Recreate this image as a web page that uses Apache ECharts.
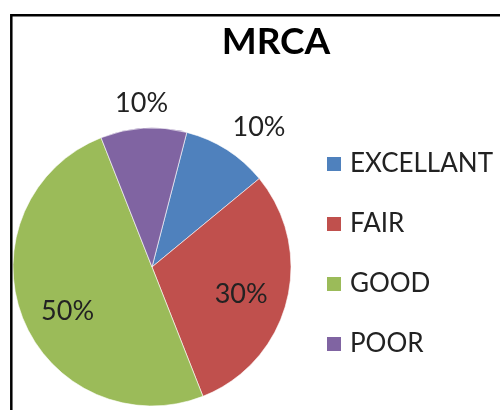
<!DOCTYPE html>
<html>
<head>
<meta charset="utf-8">
<script src="https://cdn.jsdelivr.net/npm/echarts@6/dist/echarts.min.js"></script>
<style>
html,body{margin:0;padding:0;background:#fff;}
#chart{width:500px;height:410px;}
</style>
</head>
<body>
<div id="chart"></div>
<script>
const chartTitle = 'MRCA';
const categories = ['EXCELLANT', 'FAIR', 'GOOD', 'POOR'];
const values = [10, 30, 50, 10];
const colors = ['#4F81BD', '#C0504D', '#9BBB59', '#8064A2'];
// label nudges (px) relative to the library's inside label position
const labelShiftX = [68, 19, -17, -6];
const labelShiftY = [-79, 9, 18, -91];

const FONT = 'Lato';
const chart = echarts.init(document.getElementById('chart'), null, {renderer: 'canvas'});
chart.setOption({
  backgroundColor: '#ffffff',
  animation: false,
  graphic: [{
    type: 'rect',
    shape: {x: 11.3, y: 15.3, width: 700, height: 700},
    style: {fill: 'none', stroke: '#000', lineWidth: 2.5},
    z: 100
  }],
  title: {
    text: chartTitle,
    left: 276,
    textAlign: 'center',
    top: 24,
    padding: 0,
    textStyle: {fontFamily: FONT, fontWeight: 'bold', fontSize: 37, lineHeight: 37, color: '#000'}
  },
  legend: {
    orient: 'vertical',
    left: 325,
    top: 150,
    padding: 0,
    icon: 'rect',
    itemWidth: 16,
    itemHeight: 16,
    itemGap: 32,
    data: categories,
    textStyle: {fontFamily: FONT, fontSize: 26, lineHeight: 28, color: '#222', padding: [0, 0, 0, 3]}
  },
  series: [{
    type: 'pie',
    center: [152, 267],
    radius: [0, 139],
    startAngle: 75.5,
    clockwise: true,
    itemStyle: {borderColor: '#ffffff', borderWidth: 0.6},
    label: {
      show: true,
      position: 'inside',
      formatter: '{c}%',
      fontFamily: FONT,
      fontSize: 27,
      color: '#222'
    },
    labelLine: {show: false},
    labelLayout: function (p) {
      return {dx: labelShiftX[p.dataIndex], dy: labelShiftY[p.dataIndex]};
    },
    emphasis: {disabled: true},
    data: categories.map((c, i) => ({name: c, value: values[i], itemStyle: {color: colors[i]}}))
  }]
});
</script>
</body>
</html>
